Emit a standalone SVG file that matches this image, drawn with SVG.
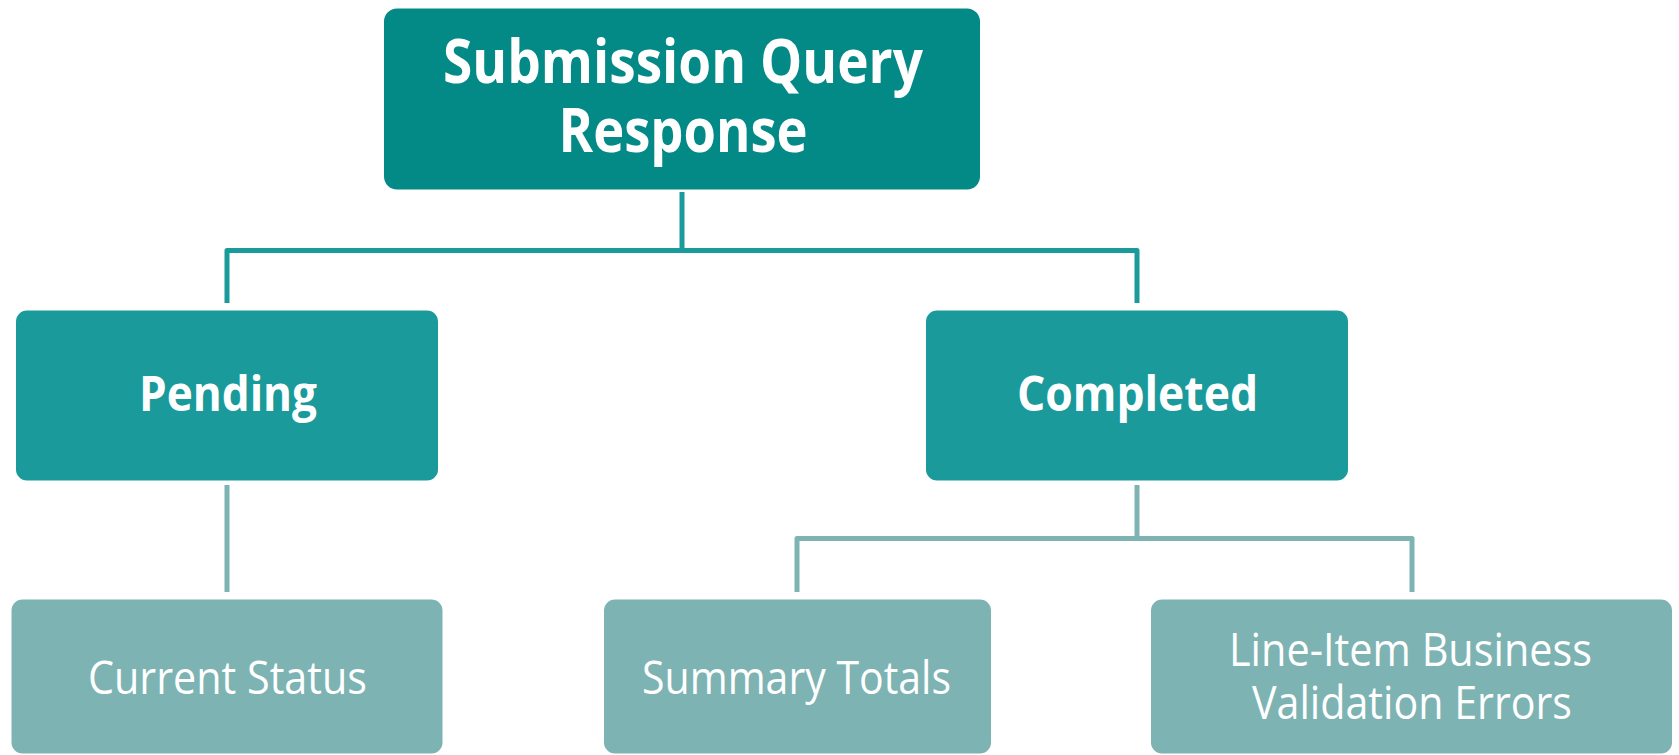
<svg xmlns="http://www.w3.org/2000/svg" width="1679" height="755" viewBox="0 0 1679 755">
  <style>
    .lvl0 { fill: #038a87; stroke: #ffffff; stroke-width: 2; }
    .lvl1 { fill: #1a9a9a; stroke: #ffffff; stroke-width: 2; }
    .lvl2 { fill: #7db3b3; stroke: #ffffff; stroke-width: 2; }
    .link1 { fill: none; stroke: #1a9a9a; stroke-width: 5; stroke-linejoin: round; }
    .link2 { fill: none; stroke: #7db3b3; stroke-width: 5; stroke-linejoin: round; }
    text { fill: #ffffff; font-family: "Open Sans", "Noto Sans", sans-serif; text-anchor: middle; }
    .bold { font-weight: 700; }
    .t0 { font-size: 60px; }
    .t1 { font-size: 48px; }
    .t2 { font-size: 46px; font-weight: 400; }
  </style>

  <rect width="1679" height="755" fill="#ffffff"/>

  <g id="connectors">
    <!-- root to second level -->
    <path class="link1" d="M682,192 V250.5 M227,303 V250.5 H1137 V303"/>
    <!-- Pending to Current Status -->
    <path class="link2" d="M227,485 V592"/>
    <!-- Completed to its children -->
    <path class="link2" d="M1137,485 V538.5 M797,592 V538.5 H1412 V592"/>
  </g>

  <g id="node-root">
    <rect class="lvl0" x="383" y="7.5" width="598" height="183" rx="14"/>
    <text class="t0 bold" x="683" y="83" textLength="480" lengthAdjust="spacingAndGlyphs">Submission Query</text>
    <text class="t0 bold" x="683" y="152" textLength="249" lengthAdjust="spacingAndGlyphs">Response</text>
  </g>

  <g id="node-pending">
    <rect class="lvl1" x="15" y="309.5" width="424" height="172" rx="12"/>
    <text class="t1 bold" x="228" y="411" textLength="178" lengthAdjust="spacingAndGlyphs">Pending</text>
  </g>

  <g id="node-completed">
    <rect class="lvl1" x="925" y="309.5" width="424" height="172" rx="12"/>
    <text class="t1 bold" x="1137.5" y="411" textLength="241" lengthAdjust="spacingAndGlyphs">Completed</text>
  </g>

  <g id="node-current-status">
    <rect class="lvl2" x="10.5" y="598.5" width="433" height="156" rx="12"/>
    <text class="t2" x="227.5" y="694" textLength="279" lengthAdjust="spacingAndGlyphs">Current Status</text>
  </g>

  <g id="node-summary-totals">
    <rect class="lvl2" x="603" y="598.5" width="389" height="156" rx="12"/>
    <text class="t2" x="796.5" y="694" textLength="309" lengthAdjust="spacingAndGlyphs">Summary Totals</text>
  </g>

  <g id="node-line-item-errors">
    <rect class="lvl2" x="1150" y="598.5" width="523" height="156" rx="12"/>
    <text class="t2" x="1410.5" y="666" textLength="363" lengthAdjust="spacingAndGlyphs">Line-Item Business</text>
    <text class="t2" x="1412" y="718.5" textLength="320" lengthAdjust="spacingAndGlyphs">Validation Errors</text>
  </g>
</svg>
